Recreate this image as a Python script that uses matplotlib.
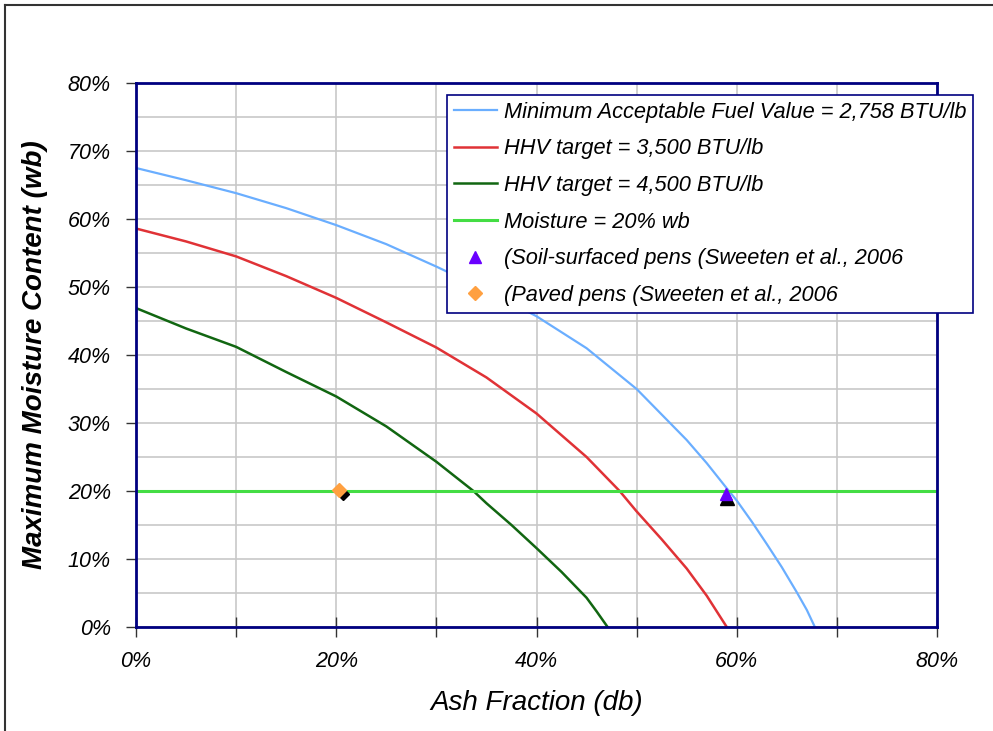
import matplotlib
matplotlib.use("Agg")
import matplotlib.pyplot as plt
from matplotlib.ticker import MultipleLocator, FuncFormatter
from matplotlib.lines import Line2D

# ---- data (fractions) ----
blue_x = [0, .05, .10, .15, .20, .25, .30, .35, .40, .45, .50, .55, .57, .59, .60, .615, .63, .645, .66, .67, .678]
blue_y = [.675, .657, .638, .616, .591, .563, .530, .495, .457, .410, .350, .275, .241, .204, .186, .155, .122, .088, .051, .025, 0]

red_x = [0, .05, .10, .15, .20, .25, .30, .35, .40, .45, .483, .50, .525, .55, .57, .59]
red_y = [.586, .567, .545, .516, .484, .448, .411, .367, .314, .250, .200, .170, .129, .086, .046, 0]

green_x = [0, .05, .10, .15, .20, .25, .30, .337, .35, .375, .40, .425, .45, .46, .471]
green_y = [.469, .439, .412, .375, .339, .295, .243, .200, .182, .150, .116, .081, .043, .023, 0]

moist_x = [0, .80]
moist_y = [.20, .20]

soil_x = [0.589]
soil_y = [0.196]
soil_shadow_x = [0.590]
soil_shadow_y = [0.190]

paved_x = [0.203]
paved_y = [0.201]
paved_shadow_x = [0.207]
paved_shadow_y = [0.196]

labels = ["Minimum Acceptable Fuel Value = 2,758 BTU/lb",
          "HHV target = 3,500 BTU/lb",
          "HHV target = 4,500 BTU/lb",
          "Moisture = 20% wb",
          "(Soil-surfaced pens (Sweeten et al., 2006",
          "(Paved pens (Sweeten et al., 2006"]

plt.rcParams['font.family'] = ['Liberation Sans', 'DejaVu Sans']

fig = plt.figure(figsize=(9.93, 7.31), dpi=100)
ax = fig.add_axes([136/993, 1-627/731, (937-136)/993, (627-83)/731])

navy = '#000080'
h1, = ax.plot(blue_x, blue_y, color='#6AAEFF', lw=1.6, label=labels[0])
h2, = ax.plot(red_x, red_y, color='#E03236', lw=1.8, label=labels[1])
h3, = ax.plot(green_x, green_y, color='#116611', lw=1.8, label=labels[2])
h4, = ax.plot(moist_x, moist_y, color='#44DD44', lw=2.2, label=labels[3])
ax.plot(soil_shadow_x, soil_shadow_y, marker='^', ms=10, color='black', ls='none', zorder=4)
h5, = ax.plot(soil_x, soil_y, marker='^', ms=9, color='#6A00FF', ls='none', zorder=5, label=labels[4])
ax.plot(paved_shadow_x, paved_shadow_y, marker='D', ms=6.5, color='black', ls='none', zorder=4)
h6, = ax.plot(paved_x, paved_y, marker='D', ms=7, color='#FFA040', ls='none', zorder=5, label=labels[5])

ax.set_xlim(0, 0.8)
ax.set_ylim(0, 0.8)
ax.xaxis.set_major_locator(MultipleLocator(0.2))
ax.xaxis.set_minor_locator(MultipleLocator(0.1))
ax.yaxis.set_major_locator(MultipleLocator(0.1))
ax.yaxis.set_minor_locator(MultipleLocator(0.05))
pct = FuncFormatter(lambda v, p: f"{v*100:.0f}%")
ax.xaxis.set_major_formatter(pct)
ax.yaxis.set_major_formatter(pct)

ax.grid(True, which='both', color='#C8C8C8', lw=1.2)
ax.set_axisbelow(True)
for s in ax.spines.values():
    s.set_color(navy)
    s.set_linewidth(2)

ax.tick_params(axis='x', which='both', direction='inout', length=14, width=1, color='#333333',
               pad=10, labelsize=15.5)
ax.tick_params(axis='y', which='major', direction='out', length=7, width=1, color='#333333',
               pad=11, labelsize=15.5)
ax.tick_params(axis='y', which='minor', length=0)
for t in ax.get_xticklabels() + ax.get_yticklabels():
    t.set_style('italic')

ax.set_xlabel("Ash Fraction (db)", fontsize=20, style='italic', labelpad=13)
ax.set_ylabel("Maximum Moisture Content (wb)", fontsize=20, style='italic', weight='bold', labelpad=14)

leg = ax.legend(handles=[h1, h2, h3, h4, h5, h6], loc='upper left',
                bbox_to_anchor=(447/993, 1-95/731), bbox_transform=fig.transFigure,
                prop={'size': 15.7, 'style': 'italic'}, frameon=True, fancybox=False,
                edgecolor=navy, framealpha=1, labelspacing=0.72, handlelength=2.0,
                handletextpad=0.3, borderpad=0.3, borderaxespad=0)
leg.get_frame().set_linewidth(1.2)

# outer figure border
fig.add_artist(Line2D([5/993, 1], [1-5/731, 1-5/731], transform=fig.transFigure, color='#333333', lw=1.5))
fig.add_artist(Line2D([5/993, 5/993], [0, 1-5/731], transform=fig.transFigure, color='#333333', lw=1.5))

fig.savefig("out.png", dpi=100)
